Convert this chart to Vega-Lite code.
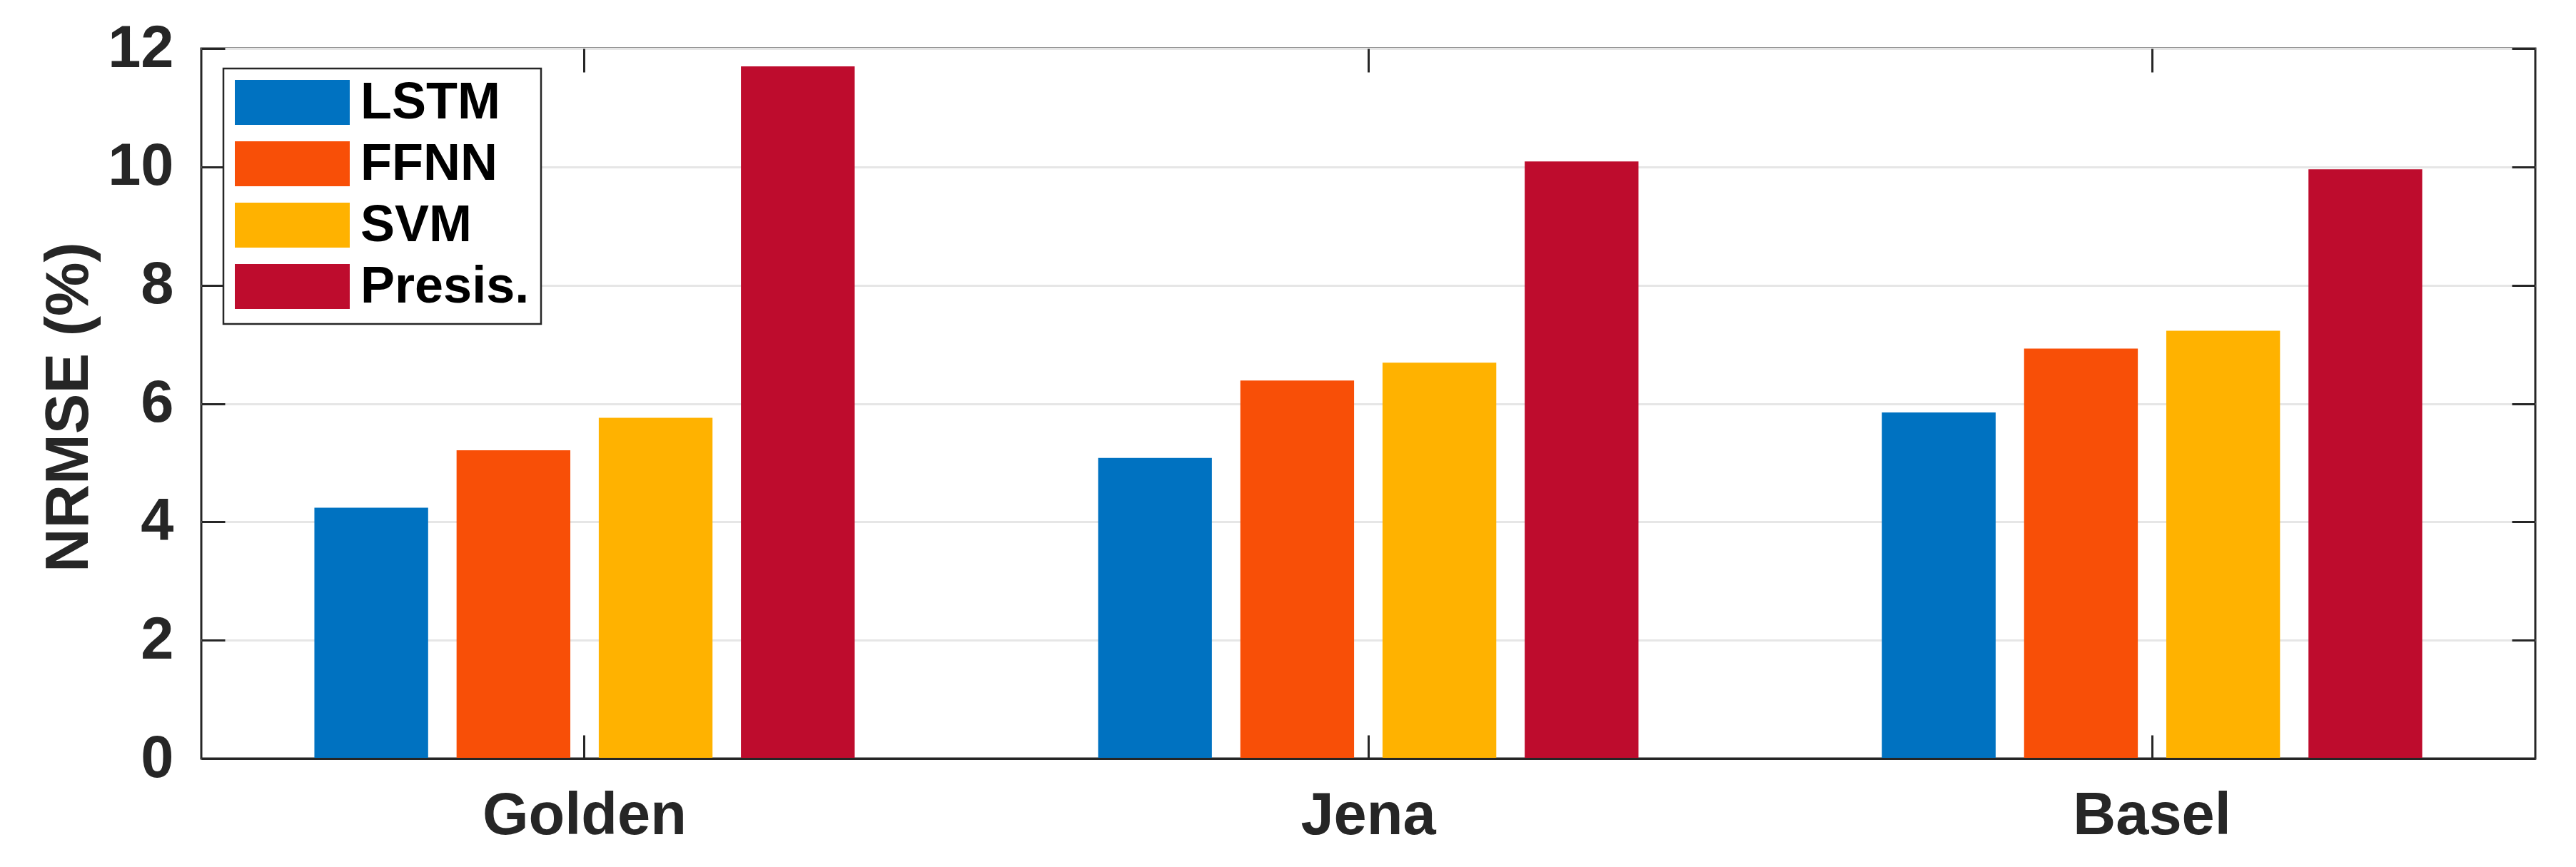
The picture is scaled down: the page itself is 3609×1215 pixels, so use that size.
{
  "$schema": "https://vega.github.io/schema/vega-lite/v6.json",
  "width": 3270,
  "height": 995,
  "autosize": {"type": "none"},
  "padding": {"left": 282, "top": 68, "right": 57, "bottom": 152},
  "background": "white",
  "config": {
    "view": {"stroke": "#262626", "strokeWidth": 3},
    "font": "Liberation Sans"
  },
  "data": {
    "values": [
      {"site": "Golden", "model": "LSTM", "nrmse": 4.24},
      {"site": "Golden", "model": "FFNN", "nrmse": 5.21},
      {"site": "Golden", "model": "SVM", "nrmse": 5.76},
      {"site": "Golden", "model": "Presis.", "nrmse": 11.70},
      {"site": "Jena", "model": "LSTM", "nrmse": 5.08},
      {"site": "Jena", "model": "FFNN", "nrmse": 6.39},
      {"site": "Jena", "model": "SVM", "nrmse": 6.69},
      {"site": "Jena", "model": "Presis.", "nrmse": 10.09},
      {"site": "Basel", "model": "LSTM", "nrmse": 5.85},
      {"site": "Basel", "model": "FFNN", "nrmse": 6.93},
      {"site": "Basel", "model": "SVM", "nrmse": 7.23},
      {"site": "Basel", "model": "Presis.", "nrmse": 9.96}
    ]
  },
  "layer": [
    {
      "mark": {"type": "bar"},
      "encoding": {
        "x": {
          "field": "site", "type": "nominal", "sort": ["Golden", "Jena", "Basel"],
          "scale": {"paddingInner": 0.3106, "paddingOuter": 0.1443},
          "axis": {
            "orient": "bottom", "title": null, "labelAngle": 0, "labelLimit": 1000,
            "labelFont": "Liberation Sans", "labelFontWeight": "bold", "labelFontSize": 83,
            "labelColor": "#262626", "labelPadding": 72,
            "tickSize": -33, "tickWidth": 3, "tickColor": "#262626",
            "domain": true, "domainColor": "#262626", "domainWidth": 3,
            "grid": false, "zindex": 1
          }
        },
        "xOffset": {
          "field": "model", "type": "nominal", "sort": ["LSTM", "FFNN", "SVM", "Presis."],
          "scale": {"paddingInner": 0.2, "paddingOuter": 0}
        },
        "y": {
          "field": "nrmse", "type": "quantitative",
          "scale": {"domain": [0, 12], "nice": false},
          "axis": {
            "orient": "left", "values": [0, 2, 4, 6, 8, 10, 12],
            "title": "NRMSE (%)",
            "titleFont": "Liberation Sans", "titleFontWeight": "bold", "titleFontSize": 85,
            "titleColor": "#262626", "titleAngle": 270, "titleX": -160, "titleY": 502,
            "titleAlign": "center", "titleBaseline": "alphabetic",
            "labelFont": "Liberation Sans", "labelFontWeight": "bold", "labelFontSize": 83,
            "labelColor": "#262626", "labelPadding": 72,
            "tickSize": -33, "tickWidth": 3, "tickColor": "#262626",
            "grid": true, "gridColor": "#e6e6e6", "gridWidth": 3,
            "domain": false, "zindex": 0
          }
        },
        "color": {
          "field": "model", "type": "nominal",
          "scale": {
            "domain": ["LSTM", "FFNN", "SVM", "Presis."],
            "range": ["#0072C1", "#F84F07", "#FFB200", "#BE0C2D"]
          },
          "legend": {
            "title": null, "orient": "none", "legendX": 31, "legendY": 28,
            "direction": "vertical",
            "symbolType": "M-1,-0.39H1V0.39H-1Z", "symbolSize": 25921,
            "symbolStrokeWidth": 0, "symbolOpacity": 1,
            "labelFont": "Liberation Sans", "labelFontWeight": "bold", "labelFontSize": 72,
            "labelColor": "black", "labelOffset": 15, "labelLimit": 1000,
            "clipHeight": 63, "rowPadding": 13, "padding": 16,
            "strokeColor": "#262626", "fillColor": "white",
            "encode": {"legend": {"update": {"strokeWidth": {"value": 2.5}}}}
          }
        }
      }
    },
    {
      "mark": {"type": "point", "opacity": 0},
      "encoding": {
        "x": {
          "field": "site", "type": "nominal", "sort": ["Golden", "Jena", "Basel"],
          "axis": {
            "orient": "top", "title": null, "labels": false,
            "tickSize": -33, "tickWidth": 3, "tickColor": "#262626",
            "domain": false, "grid": false, "zindex": 1
          }
        },
        "y": {
          "field": "nrmse", "type": "quantitative",
          "axis": {
            "orient": "right", "title": null, "labels": false, "values": [0, 2, 4, 6, 8, 10, 12],
            "tickSize": -33, "tickWidth": 3, "tickColor": "#262626",
            "domain": false, "grid": false, "zindex": 1
          }
        }
      }
    }
  ],
  "resolve": {"axis": {"x": "independent", "y": "independent"}}
}
